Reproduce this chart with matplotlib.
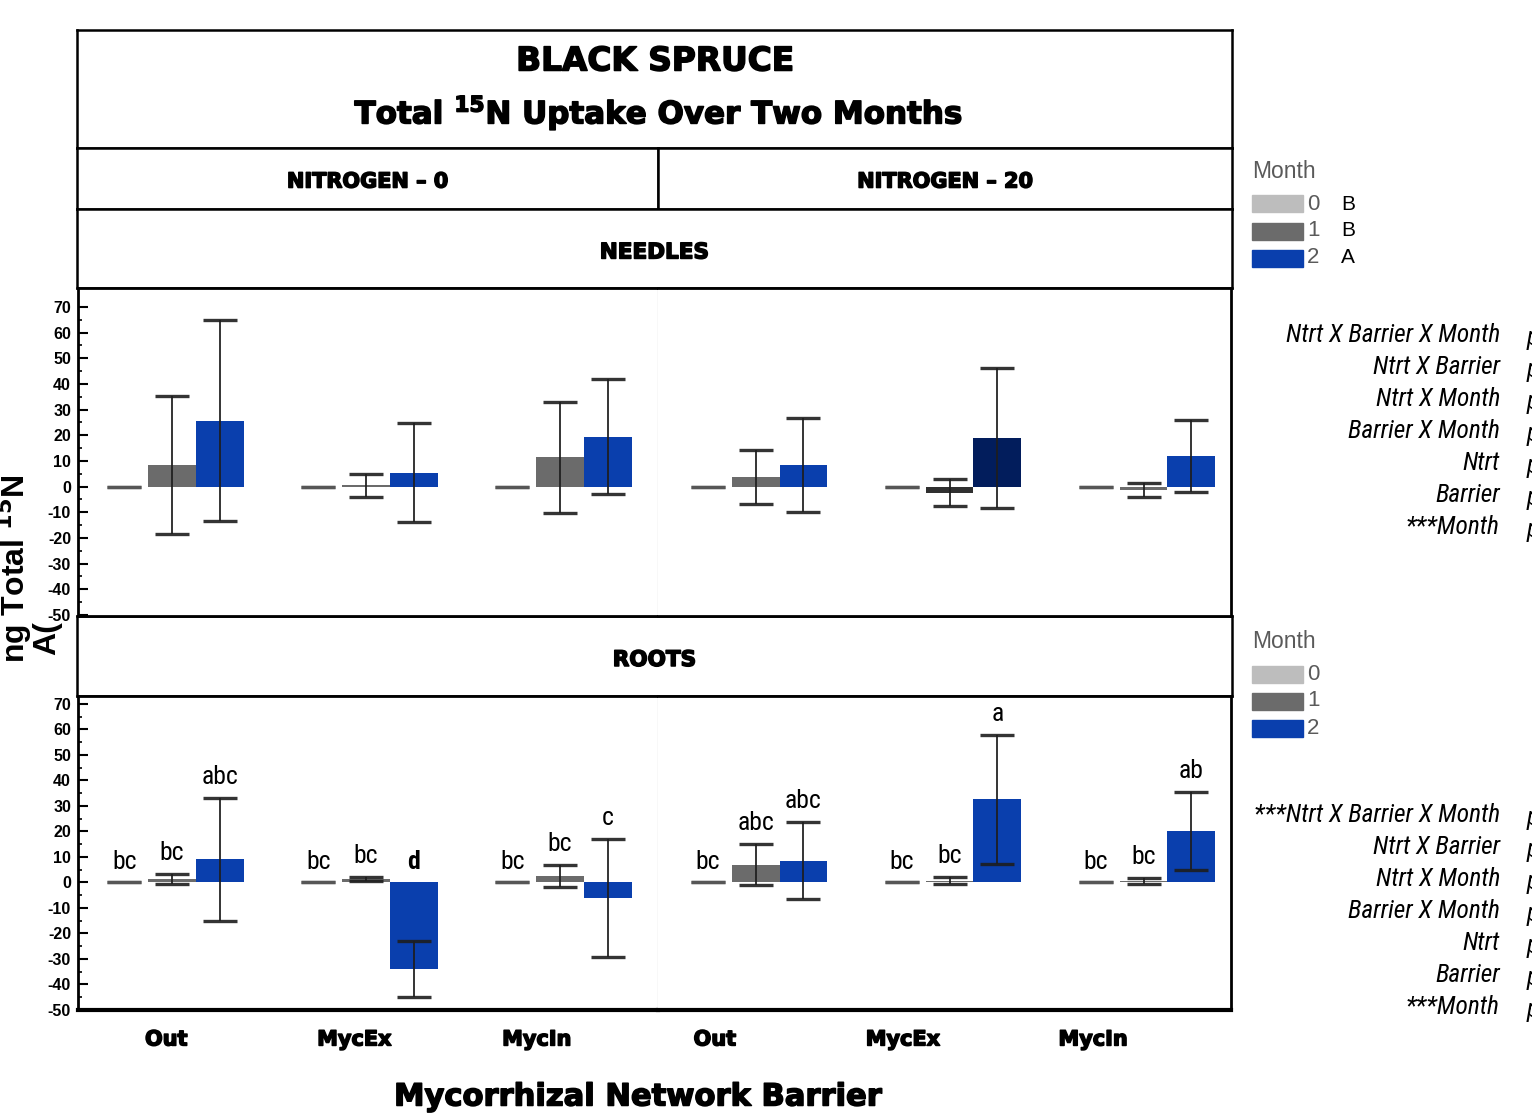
import matplotlib
matplotlib.use('Agg')
import matplotlib.pyplot as plt
import matplotlib.patheffects as pe
from matplotlib.patches import Rectangle
import numpy as np

W, H = 1532, 1119

barriers = ['Out', 'MycEx', 'MycIn']
nitrogen = ['NITROGEN – 0', 'NITROGEN – 20']
months = ['0', '1', '2']
month_colors = ['#bdbdbd', '#6b6b6b', '#0a3fad']
month_letters = ['B', 'B', 'A']

# mean uptake, rows = barrier, cols = month
needles_n0 = [[0, 8.5, 25.7], [0, 0.6, 5.5], [0, 11.5, 19.5]]
needles_n0_err = [[0, 27.0, 39.2], [0, 4.5, 19.3], [0, 21.6, 22.3]]
needles_n20 = [[0, 3.9, 8.4], [0, -2.3, 19.0], [0, -1.3, 12.1]]
needles_n20_err = [[0, 10.5, 18.2], [0, 5.2, 27.3], [0, 2.8, 14.0]]

roots_n0 = [[0, 1.5, 9.1], [0, 1.3, -34.0], [0, 2.6, -6.0]]
roots_n0_err = [[0, 2.0, 24.1], [0, 0.8, 11.0], [0, 4.4, 23.1]]
roots_n20 = [[0, 7.0, 8.6], [0, 0.7, 32.6], [0, 0.6, 20.2]]
roots_n20_err = [[0, 8.0, 15.1], [0, 1.3, 25.3], [0, 1.2, 15.2]]

roots_n0_letters = [['bc', 'bc', 'abc'], ['bc', 'bc', 'd'], ['bc', 'bc', 'c']]
roots_n20_letters = [['bc', 'abc', 'abc'], ['bc', 'bc', 'a'], ['bc', 'bc', 'ab']]

# selected cells (barrier, month) in the N-20 needles panel
needles_n20_selected = {(1, 1): '#303030', (1, 2): '#021d5c'}

needles_effects = ['Ntrt X Barrier X Month', 'Ntrt X Barrier', 'Ntrt X Month',
                   'Barrier X Month', 'Ntrt', 'Barrier', '***Month']
roots_effects = ['***Ntrt X Barrier X Month', 'Ntrt X Barrier', 'Ntrt X Month',
                 'Barrier X Month', 'Ntrt', 'Barrier', '***Month']

plt.rcParams['axes.unicode_minus'] = False
plt.rcParams['mathtext.fontset'] = 'dejavusans'
HEAVY = 'DejaVu Sans'
NARROW = ['Roboto Condensed', 'Liberation Sans Narrow', 'Liberation Sans']
ARIAL = ['Liberation Sans', 'DejaVu Sans']
thick = [pe.withStroke(linewidth=1.1, foreground='black')]

fig = plt.figure(figsize=(W / 100, H / 100), dpi=100)


def box(x0, y0, x1, y1):
    return fig.add_axes([x0 / W, 1 - y1 / H, (x1 - x0) / W, (y1 - y0) / H])


def ftext(x, y, s, **kw):
    return fig.text(x / W, 1 - y / H, s, **kw)


def header(x0, y0, x1, y1, text, size=15):
    ax = box(x0, y0, x1, y1)
    ax.set_xticks([])
    ax.set_yticks([])
    for sp in ax.spines.values():
        sp.set_linewidth(1.8)
    if text:
        ax.text(0.5, 0.45, text, transform=ax.transAxes, ha='center', va='center',
                fontsize=size, fontweight='bold', family=HEAVY, path_effects=thick)
    return ax


# title block and strip headers
title_ax = header(77, 30, 1232, 148, None)
ftext(655, 61, 'BLACK SPRUCE', ha='center', va='center', fontsize=23.6,
      fontweight='bold', family=HEAVY, path_effects=thick)
ftext(659, 113, r'Total $^{\mathbf{15}}$N Uptake Over Two Months', ha='center',
      va='center', fontsize=22.3, fontweight='bold', family=HEAVY, path_effects=thick)
header(77, 148, 658, 209, nitrogen[0])
header(658, 148, 1232, 209, nitrogen[1])
header(77, 209, 1232, 288, 'NEEDLES', size=15.5)
header(77, 616, 1232, 696, 'ROOTS', size=15.5)

bar_w = 0.247
tick_shift = [[-0.03, -0.06, -0.12], [-0.21, -0.24, -0.26]]


def panel(ax, means, errs, ylim, left, letters=None, selected=None, xlabels=False, facet=0):
    x = np.arange(len(barriers))
    for m in range(len(months)):
        vals = [means[b][m] for b in range(len(barriers))]
        ers = [errs[b][m] for b in range(len(barriers))]
        cols = [(selected or {}).get((b, m), month_colors[m]) for b in range(len(barriers))]
        xm = x + (m - 1) * bar_w
        ax.bar(xm, vals, bar_w, color=cols, zorder=2, linewidth=0)
        ax.errorbar(xm, vals, yerr=ers, fmt='none',
                    ecolor='#555555' if m == 0 else '#1e1e1e',
                    elinewidth=1.4, capsize=12, capthick=2.4, zorder=3, alpha=0.9)
        if letters is not None:
            for b in range(len(barriers)):
                top = max(vals[b] + ers[b], 0)
                lab = letters[b][m]
                ax.annotate(lab, (xm[b], top), xytext=(0, 10), textcoords='offset points',
                            ha='center', va='baseline', fontsize=18.5, family=NARROW,
                            fontweight='bold' if lab == 'd' else 'normal')
    ax.set_ylim(*ylim)
    ax.set_xlim(-0.485, 2.505) if left else ax.set_xlim(-0.503, 2.451)
    ax.set_xticks(x + np.array(tick_shift[facet]))
    if xlabels:
        ax.set_xticklabels(barriers, fontsize=15, fontweight='bold', family=HEAVY)
        for t in ax.get_xticklabels():
            t.set_path_effects(thick)
    else:
        ax.set_xticklabels([])
    ax.tick_params(axis='x', length=0, pad=14)
    for sp in ax.spines.values():
        sp.set_linewidth(2)
    if left:
        ax.set_yticks(np.arange(-50, 71, 10))
        ax.set_yticks(np.arange(-45, 71, 10), minor=True)
        ax.tick_params(axis='y', which='major', direction='in', length=7, width=1.5, pad=5,
                       labelsize=11.5)
        ax.tick_params(axis='y', which='minor', direction='in', length=3, width=1.2)
        for t in ax.get_yticklabels():
            t.set_fontweight('bold')
            t.set_family(ARIAL)
        ax.spines['right'].set_color('#dddddd')
        ax.spines['right'].set_linewidth(1)
    else:
        ax.set_yticks([])
        ax.spines['left'].set_visible(False)


needles_ylim = (-50.4, 77.4)
roots_ylim = (-50.0, 73.1)

ax = box(78, 288, 658, 616)
panel(ax, needles_n0, needles_n0_err, needles_ylim, True, facet=0)
ax = box(658, 288, 1231, 616)
panel(ax, needles_n20, needles_n20_err, needles_ylim, False, selected=needles_n20_selected, facet=1)
ax = box(78, 696, 658, 1010)
panel(ax, roots_n0, roots_n0_err, roots_ylim, True, letters=roots_n0_letters, xlabels=True, facet=0)
ax.spines['bottom'].set_linewidth(3)
ax = box(658, 696, 1231, 1010)
panel(ax, roots_n20, roots_n20_err, roots_ylim, False, letters=roots_n20_letters, xlabels=True, facet=1)
ax.spines['bottom'].set_linewidth(3)

# axis titles
ftext(637, 1097, 'Mycorrhizal Network Barrier', ha='center', va='center', fontsize=22,
      fontweight='bold', family=HEAVY, path_effects=thick)
ftext(14, 569, r'ng Total $^{\mathbf{15}}$N', rotation=90, ha='center', va='center',
      fontsize=23, fontweight='bold', family=ARIAL)
ftext(47, 638, 'A(', rotation=90, ha='center', va='center', fontsize=23,
      fontweight='bold', family=ARIAL)


def legend(y_title, show_letters):
    ftext(1252, y_title, 'Month', ha='left', va='center', fontsize=16.5, color='#5a5a5a',
          family=ARIAL)
    for i, m in enumerate(months):
        yc = y_title + 33 + 27 * i
        fig.add_artist(Rectangle((1252 / W, 1 - (yc + 8.5) / H), 51 / W, 17 / H,
                                 transform=fig.transFigure, color=month_colors[i]))
        ftext(1307, yc, m, ha='left', va='center', fontsize=16, color='#5a5a5a', family=ARIAL)
        if show_letters:
            ftext(1341, yc, month_letters[i], ha='left', va='center', fontsize=15,
                  family=ARIAL)


legend(171, True)
legend(641, False)


def effects_block(y0, labels):
    for i, lab in enumerate(labels):
        y = y0 + 32 * i
        ftext(1500, y, lab, ha='right', va='center', fontsize=18.3, style='italic', family=NARROW)
        ftext(1527, y + 3, 'p', ha='left', va='center', fontsize=18.3, style='italic', family=NARROW)


effects_block(335, needles_effects)
effects_block(815, roots_effects)

fig.savefig('out.png', dpi=100, facecolor='white')
